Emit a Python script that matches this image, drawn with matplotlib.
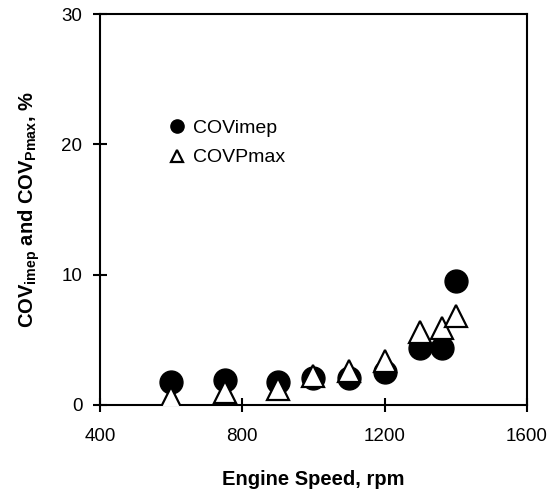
import matplotlib
matplotlib.use("Agg")
import matplotlib.pyplot as plt
from matplotlib.lines import Line2D

plt.rcParams['font.family'] = ['Liberation Sans', 'DejaVu Sans']
plt.rcParams['mathtext.fontset'] = 'custom'
plt.rcParams['mathtext.rm'] = 'Liberation Sans'
plt.rcParams['mathtext.bf'] = 'Liberation Sans:bold'

# Engine speed (rpm) and coefficient of variation (%)
speed = [600, 750, 900, 1000, 1100, 1200, 1300, 1360, 1400]
cov_imep = [1.75, 1.9, 1.8, 2.1, 2.05, 2.55, 4.4, 4.4, 9.5]
cov_pmax = [0.55, 1.0, 1.25, 2.2, 2.6, 3.35, 5.6, 5.9, 6.8]

fig = plt.figure(figsize=(5.57, 4.93), dpi=100)
ax = fig.add_axes([0.1795, 0.1785, 0.7666, 0.7931])

ax.plot(speed, cov_imep, linestyle='none', marker='o', markersize=16.5,
        markerfacecolor='black', markeredgecolor='black', zorder=3)
ax.plot(speed, cov_pmax, linestyle='none', marker='^', markersize=16,
        markerfacecolor='white', markeredgecolor='black', markeredgewidth=1.6,
        zorder=4)

ax.set_xlim(400, 1600)
ax.set_ylim(0, 30)
ax.set_xticks([400, 800, 1200, 1600])
ax.set_yticks([0, 10, 20, 30])

for s in ax.spines.values():
    s.set_linewidth(1.5)
ax.tick_params(direction='inout', length=10.5, width=1.5, labelsize=13.5)
ax.tick_params(axis='x', pad=11.5)
ax.tick_params(axis='y', pad=7.5)

ax.set_xlabel('Engine Speed, rpm', fontsize=14.5, fontweight='bold',
              labelpad=18)
ax.set_ylabel(r'COV$_{\mathbf{imep}}$ and COV$_{\mathbf{Pmax}}$, %',
              fontsize=14.5, fontweight='bold', labelpad=14)

handles = [
    Line2D([], [], linestyle='none', marker='o', markersize=9.5,
           markerfacecolor='black', markeredgecolor='black'),
    Line2D([], [], linestyle='none', marker='^', markersize=9,
           markerfacecolor='white', markeredgecolor='black',
           markeredgewidth=1.6),
]
ax.legend(handles, ['COVimep', 'COVPmax'], loc='upper left',
          bbox_to_anchor=(0.13, 0.765), frameon=False, fontsize=14,
          handlelength=0.8, handletextpad=0.42, labelspacing=0.6,
          borderpad=0.2)

fig.savefig('out.png', dpi=100)
